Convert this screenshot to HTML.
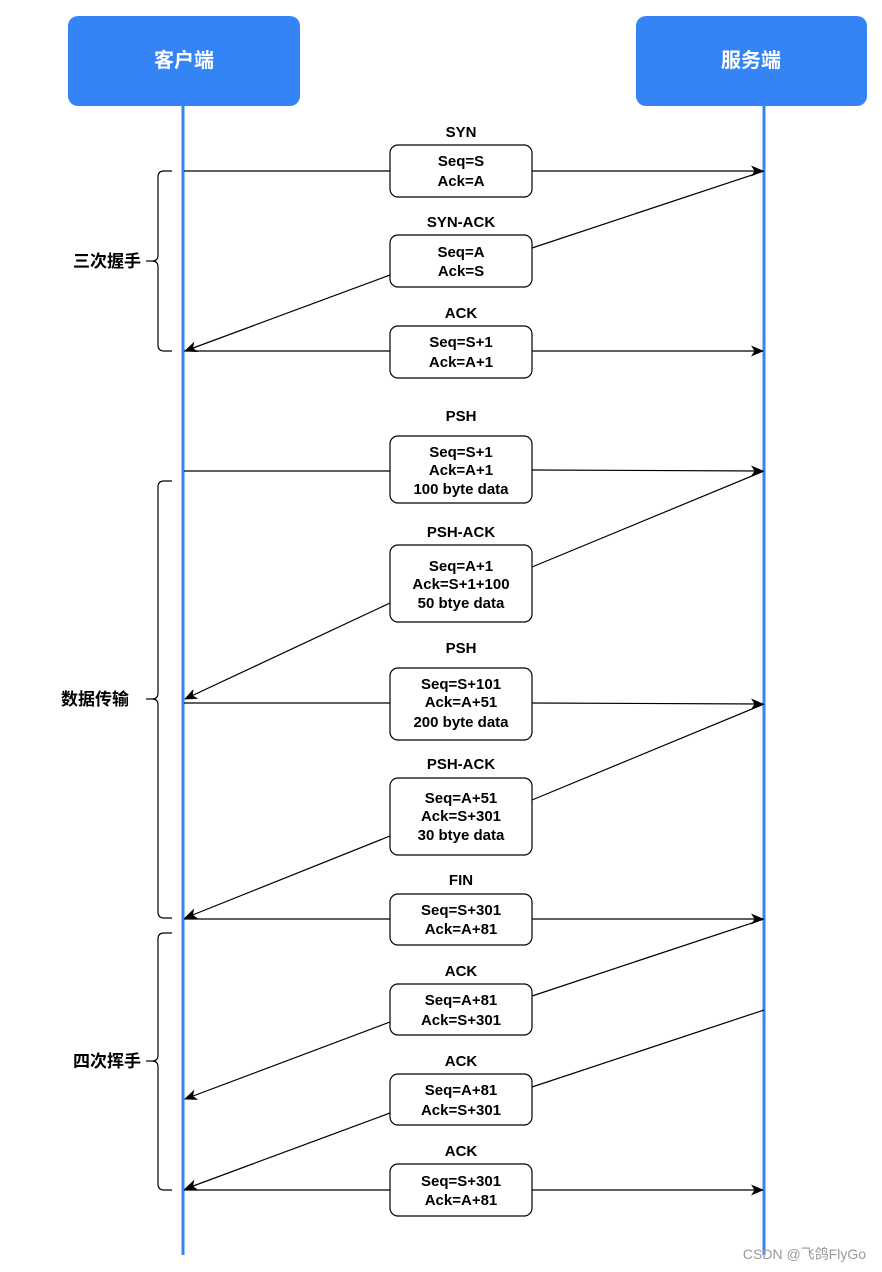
<!DOCTYPE html>
<html><head><meta charset="utf-8"><style>
html,body{margin:0;padding:0;background:#fff;}
svg{display:block;}
text{font-family:"Liberation Sans","Noto Sans CJK SC",sans-serif;font-weight:bold;}
</style></head><body>
<svg width="882" height="1272" viewBox="0 0 882 1272" xmlns="http://www.w3.org/2000/svg">
<defs>
<marker id="ar" markerWidth="13" markerHeight="11" refX="12" refY="5.5" orient="auto" markerUnits="userSpaceOnUse">
<path d="M0,0 L13,5.5 L0,11 L3.5,5.5 Z" fill="#000"/>
</marker>
</defs>
<rect x="68" y="16" width="232" height="90" rx="10" fill="#3584f6"/>
<rect x="636" y="16" width="231" height="90" rx="10" fill="#3584f6"/>
<text x="184" y="67" font-size="20" fill="#fff" text-anchor="middle">客户端</text>
<text x="751" y="67" font-size="20" fill="#fff" text-anchor="middle">服务端</text>
<line x1="183" y1="106" x2="183" y2="1255" stroke="#3584f6" stroke-width="3"/>
<line x1="764" y1="106" x2="764" y2="1255" stroke="#3584f6" stroke-width="3"/>

<g stroke="#000" stroke-width="1.2" fill="none">
<line x1="184" y1="171" x2="390" y2="171"/>
<line x1="532" y1="171" x2="763" y2="171" marker-end="url(#ar)"/>
<line x1="764" y1="171" x2="532" y2="248"/>
<line x1="390" y1="275" x2="185" y2="351" marker-end="url(#ar)"/>
<line x1="184" y1="351" x2="390" y2="351"/>
<line x1="532" y1="351" x2="763" y2="351" marker-end="url(#ar)"/>
<line x1="184" y1="471" x2="390" y2="471"/>
<line x1="532" y1="470" x2="763" y2="471" marker-end="url(#ar)"/>
<line x1="764" y1="471" x2="532" y2="567"/>
<line x1="390" y1="603" x2="185" y2="699" marker-end="url(#ar)"/>
<line x1="184" y1="703" x2="390" y2="703"/>
<line x1="532" y1="703" x2="763" y2="704" marker-end="url(#ar)"/>
<line x1="764" y1="704" x2="532" y2="800"/>
<line x1="390" y1="836" x2="185" y2="918" marker-end="url(#ar)"/>
<line x1="184" y1="919" x2="390" y2="919"/>
<line x1="532" y1="919" x2="763" y2="919" marker-end="url(#ar)"/>
<line x1="764" y1="919" x2="532" y2="996"/>
<line x1="390" y1="1022" x2="185" y2="1099" marker-end="url(#ar)"/>
<line x1="764" y1="1010" x2="532" y2="1087"/>
<line x1="390" y1="1113" x2="185" y2="1189" marker-end="url(#ar)"/>
<line x1="184" y1="1190" x2="390" y2="1190"/>
<line x1="532" y1="1190" x2="763" y2="1190" marker-end="url(#ar)"/>

<path d="M172,171 L164,171 Q158,171 158,177 L158,255 Q158,261 152,261 Q158,261 158,267 L158,345 Q158,351 164,351 L172,351"/>
<line x1="146" y1="261" x2="152" y2="261"/>
<path d="M172,481 L164,481 Q158,481 158,487 L158,693 Q158,699 152,699 Q158,699 158,705 L158,912 Q158,918 164,918 L172,918"/>
<line x1="146" y1="699" x2="152" y2="699"/>
<path d="M172,933 L164,933 Q158,933 158,939 L158,1055 Q158,1061 152,1061 Q158,1061 158,1067 L158,1184 Q158,1190 164,1190 L172,1190"/>
<line x1="146" y1="1061" x2="152" y2="1061"/>
</g>

<g fill="#fff" stroke="#000" stroke-width="1.2">
<rect x="390" y="145" width="142" height="52" rx="8"/>
<rect x="390" y="235" width="142" height="52" rx="8"/>
<rect x="390" y="326" width="142" height="52" rx="8"/>
<rect x="390" y="436" width="142" height="67" rx="8"/>
<rect x="390" y="545" width="142" height="77" rx="8"/>
<rect x="390" y="668" width="142" height="72" rx="8"/>
<rect x="390" y="778" width="142" height="77" rx="8"/>
<rect x="390" y="894" width="142" height="51" rx="8"/>
<rect x="390" y="984" width="142" height="51" rx="8"/>
<rect x="390" y="1074" width="142" height="51" rx="8"/>
<rect x="390" y="1164" width="142" height="52" rx="8"/>
</g>

<g font-size="15" fill="#000" text-anchor="middle">
<text x="461" y="137">SYN</text>
<text x="461" y="166">Seq=S</text><text x="461" y="186">Ack=A</text>
<text x="461" y="227">SYN-ACK</text>
<text x="461" y="257">Seq=A</text><text x="461" y="276">Ack=S</text>
<text x="461" y="318">ACK</text>
<text x="461" y="347">Seq=S+1</text><text x="461" y="367">Ack=A+1</text>
<text x="461" y="421">PSH</text>
<text x="461" y="457">Seq=S+1</text><text x="461" y="475">Ack=A+1</text><text x="461" y="494">100 byte data</text>
<text x="461" y="537">PSH-ACK</text>
<text x="461" y="571">Seq=A+1</text><text x="461" y="589">Ack=S+1+100</text><text x="461" y="608">50 btye data</text>
<text x="461" y="653">PSH</text>
<text x="461" y="689">Seq=S+101</text><text x="461" y="707">Ack=A+51</text><text x="461" y="727">200 byte data</text>
<text x="461" y="769">PSH-ACK</text>
<text x="461" y="803">Seq=A+51</text><text x="461" y="821">Ack=S+301</text><text x="461" y="840">30 btye data</text>
<text x="461" y="885">FIN</text>
<text x="461" y="915">Seq=S+301</text><text x="461" y="934">Ack=A+81</text>
<text x="461" y="976">ACK</text>
<text x="461" y="1005">Seq=A+81</text><text x="461" y="1025">Ack=S+301</text>
<text x="461" y="1066">ACK</text>
<text x="461" y="1095">Seq=A+81</text><text x="461" y="1115">Ack=S+301</text>
<text x="461" y="1156">ACK</text>
<text x="461" y="1186">Seq=S+301</text><text x="461" y="1205">Ack=A+81</text>
</g>

<g font-size="17" fill="#000" text-anchor="end">
<text x="141" y="267">三次握手</text>
<text x="129" y="705">数据传输</text>
<text x="141" y="1067">四次挥手</text>
</g>
<text x="866" y="1259" font-size="14" fill="#999" text-anchor="end" style="font-weight:normal">CSDN @飞鸽FlyGo</text>
</svg>
</body></html>
